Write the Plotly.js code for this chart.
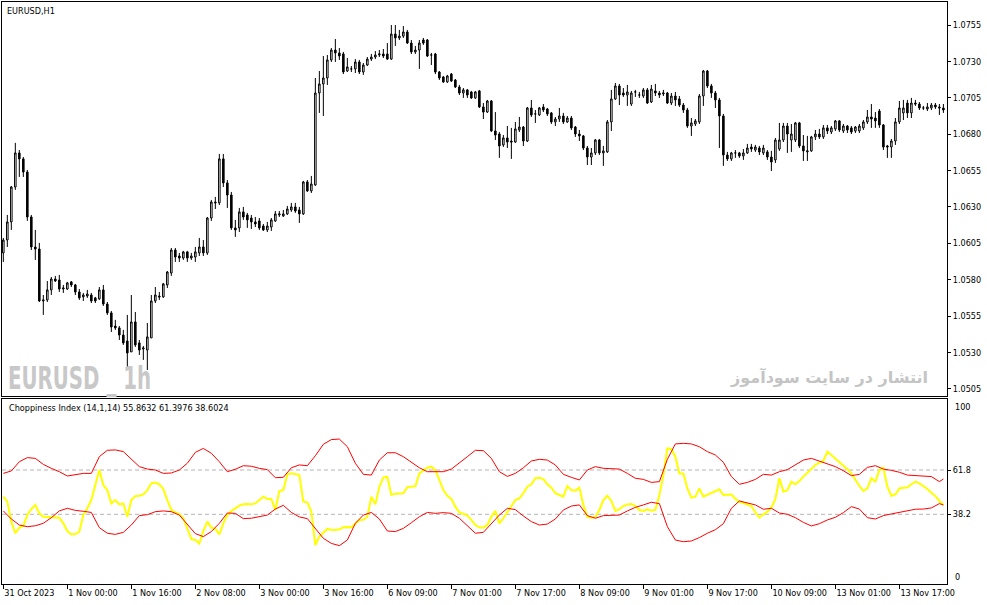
<!DOCTYPE html>
<html>
<head>
<meta charset="utf-8">
<script src="https://cdn.plot.ly/plotly-3.0.1.min.js"></script>
<style>
  html, body { margin: 0; padding: 0; background: #fff; }
  #chart { width: 987px; height: 605px; }
</style>
</head>
<body>
<div id="chart"></div>
<script>
// EURUSD H1, 236 bars
const open = [
  1.05984,1.06073,1.06197,1.06437,1.06671,1.06630,1.06540,1.06231,1.06025,1.06011,
  1.05654,1.05661,1.05730,1.05805,1.05798,1.05736,1.05736,1.05785,1.05764,1.05716,
  1.05682,1.05688,1.05695,1.05675,1.05668,1.05730,1.05633,1.05572,1.05482,1.05469,
  1.05420,1.05379,1.05304,1.05510,1.05366,1.05324,1.05317,1.05400,1.05654,1.05688,
  1.05682,1.05764,1.05846,1.06004,1.05963,1.05949,1.05991,1.05949,1.05956,1.05984,
  1.06025,1.05984,1.06224,1.06334,1.06328,1.06630,1.06465,1.06382,1.06156,1.06156,
  1.06266,1.06245,1.06224,1.06197,1.06204,1.06169,1.06142,1.06162,1.06204,1.06245,
  1.06238,1.06252,1.06279,1.06300,1.06279,1.06252,1.06472,1.06410,1.06451,1.07083,
  1.07145,1.07186,1.07310,1.07378,1.07358,1.07351,1.07234,1.07248,1.07248,1.07296,
  1.07227,1.07275,1.07316,1.07330,1.07344,1.07351,1.07351,1.07316,1.07488,1.07461,
  1.07474,1.07502,1.07426,1.07365,1.07378,1.07447,1.07447,1.07344,1.07351,1.07227,
  1.07193,1.07159,1.07213,1.07172,1.07124,1.07083,1.07104,1.07090,1.07049,1.07097,
  1.06987,1.06952,1.07028,1.06822,1.06801,1.06726,1.06774,1.06753,1.06746,1.06829,
  1.06849,1.06753,1.06980,1.06939,1.06932,1.06987,1.06973,1.06946,1.06884,1.06904,
  1.06925,1.06884,1.06911,1.06849,1.06801,1.06788,1.06705,1.06643,1.06671,1.06760,
  1.06671,1.06678,1.06884,1.07042,1.07131,1.07083,1.07069,1.07007,1.07090,1.07069,
  1.07062,1.07104,1.07021,1.07097,1.07083,1.07076,1.07083,1.07014,1.07062,1.07042,
  1.07000,1.06966,1.06856,1.06870,1.06884,1.07062,1.07234,1.07131,1.07083,1.07035,
  1.06925,1.06657,1.06630,1.06671,1.06671,1.06650,1.06671,1.06712,1.06691,1.06705,
  1.06671,1.06678,1.06643,1.06623,1.06698,1.06760,1.06856,1.06760,1.06760,1.06877,
  1.06719,1.06678,1.06685,1.06781,1.06801,1.06781,1.06843,1.06815,1.06836,1.06891,
  1.06822,1.06856,1.06843,1.06822,1.06822,1.06843,1.06884,1.06918,1.06911,1.06959,
  1.06863,1.06719,1.06712,1.06753,1.06884,1.06946,1.07014,1.06946,1.07014,1.07007,
  1.06980,1.06973,1.06980,1.07000,1.06987,1.06980
];
const high = [
  1.06087,1.06245,1.06444,1.06740,1.06691,1.06643,1.06554,1.06245,1.06142,1.06053,
  1.05695,1.05791,1.05819,1.05826,1.05833,1.05764,1.05785,1.05791,1.05771,1.05736,
  1.05709,1.05730,1.05709,1.05682,1.05750,1.05764,1.05647,1.05585,1.05524,1.05482,
  1.05455,1.05558,1.05695,1.05578,1.05386,1.05345,1.05503,1.05695,1.05750,1.05716,
  1.05778,1.05860,1.06018,1.06018,1.05984,1.05998,1.05998,1.05984,1.06025,1.06087,
  1.06073,1.06231,1.06348,1.06369,1.06664,1.06664,1.06485,1.06403,1.06211,1.06293,
  1.06300,1.06259,1.06245,1.06231,1.06224,1.06183,1.06197,1.06224,1.06272,1.06272,
  1.06279,1.06307,1.06328,1.06328,1.06300,1.06479,1.06485,1.06513,1.07186,1.07234,
  1.07337,1.07344,1.07392,1.07454,1.07392,1.07365,1.07323,1.07268,1.07316,1.07310,
  1.07289,1.07330,1.07351,1.07371,1.07378,1.07385,1.07426,1.07550,1.07550,1.07516,
  1.07543,1.07516,1.07447,1.07406,1.07447,1.07461,1.07454,1.07358,1.07358,1.07234,
  1.07200,1.07207,1.07220,1.07179,1.07138,1.07117,1.07110,1.07097,1.07097,1.07104,
  1.07014,1.07035,1.07035,1.06952,1.06815,1.06794,1.06856,1.06843,1.06884,1.06918,
  1.06856,1.06987,1.07035,1.06966,1.06987,1.07007,1.06980,1.06952,1.06918,1.06980,
  1.06946,1.06925,1.06925,1.06856,1.06829,1.06794,1.06719,1.06705,1.06767,1.06767,
  1.06719,1.06897,1.07104,1.07152,1.07145,1.07117,1.07138,1.07097,1.07104,1.07090,
  1.07117,1.07117,1.07138,1.07145,1.07097,1.07104,1.07090,1.07083,1.07090,1.07062,
  1.07014,1.06980,1.06911,1.06904,1.07076,1.07241,1.07241,1.07145,1.07097,1.07049,
  1.06939,1.06678,1.06678,1.06691,1.06678,1.06698,1.06733,1.06733,1.06726,1.06719,
  1.06726,1.06691,1.06685,1.06774,1.06877,1.06877,1.06877,1.06870,1.06884,1.06884,
  1.06794,1.06788,1.06788,1.06829,1.06836,1.06863,1.06863,1.06856,1.06897,1.06897,
  1.06870,1.06863,1.06856,1.06856,1.06870,1.06897,1.06966,1.07007,1.06952,1.06973,
  1.06870,1.06726,1.06767,1.06911,1.07028,1.07035,1.07035,1.07049,1.07035,1.07021,
  1.06994,1.07014,1.07014,1.07014,1.07007,1.07007
];
const low = [
  1.05922,1.06025,1.06142,1.06417,1.06506,1.06506,1.06204,1.06004,1.05936,1.05647,
  1.05558,1.05647,1.05695,1.05785,1.05716,1.05709,1.05730,1.05750,1.05695,1.05661,
  1.05654,1.05675,1.05640,1.05640,1.05661,1.05620,1.05558,1.05441,1.05455,1.05386,
  1.05352,1.05201,1.05304,1.05338,1.05283,1.05249,1.05180,1.05400,1.05640,1.05661,
  1.05675,1.05743,1.05826,1.05922,1.05922,1.05936,1.05922,1.05936,1.05922,1.05963,
  1.05963,1.05970,1.06204,1.06286,1.06313,1.06437,1.06293,1.06142,1.06094,1.06128,
  1.06211,1.06156,1.06149,1.06162,1.06142,1.06135,1.06128,1.06135,1.06197,1.06231,
  1.06231,1.06245,1.06266,1.06259,1.06190,1.06245,1.06403,1.06396,1.06444,1.06946,
  1.06925,1.07138,1.07296,1.07296,1.07310,1.07213,1.07227,1.07227,1.07220,1.07213,
  1.07207,1.07268,1.07303,1.07316,1.07330,1.07323,1.07310,1.07310,1.07406,1.07447,
  1.07461,1.07420,1.07351,1.07351,1.07248,1.07413,1.07330,1.07275,1.07213,1.07172,
  1.07152,1.07152,1.07159,1.07117,1.07069,1.07049,1.07049,1.07042,1.07042,1.06980,
  1.06904,1.06946,1.06815,1.06760,1.06637,1.06712,1.06705,1.06630,1.06740,1.06815,
  1.06719,1.06746,1.06918,1.06877,1.06925,1.06952,1.06925,1.06870,1.06856,1.06884,
  1.06870,1.06877,1.06829,1.06781,1.06753,1.06691,1.06588,1.06588,1.06657,1.06657,
  1.06582,1.06671,1.06822,1.07035,1.07000,1.07056,1.06994,1.06994,1.07056,1.07049,
  1.07049,1.07007,1.07014,1.07062,1.07049,1.07062,1.07007,1.07000,1.06994,1.06987,
  1.06946,1.06843,1.06788,1.06856,1.06870,1.06994,1.07117,1.07049,1.06980,1.06705,
  1.06582,1.06616,1.06616,1.06637,1.06637,1.06623,1.06664,1.06678,1.06678,1.06657,
  1.06657,1.06623,1.06547,1.06602,1.06685,1.06746,1.06671,1.06678,1.06746,1.06705,
  1.06616,1.06616,1.06678,1.06760,1.06767,1.06767,1.06801,1.06801,1.06822,1.06815,
  1.06808,1.06808,1.06801,1.06808,1.06808,1.06829,1.06870,1.06843,1.06843,1.06843,
  1.06691,1.06637,1.06637,1.06726,1.06870,1.06897,1.06911,1.06911,1.06994,1.06966,
  1.06966,1.06959,1.06966,1.06973,1.06932,1.06946
];
const close = [
  1.06073,1.06197,1.06437,1.06671,1.06630,1.06540,1.06231,1.06025,1.06011,1.05654,
  1.05661,1.05730,1.05805,1.05791,1.05736,1.05743,1.05778,1.05764,1.05716,1.05675,
  1.05695,1.05702,1.05654,1.05654,1.05730,1.05633,1.05572,1.05475,1.05469,1.05420,
  1.05366,1.05297,1.05510,1.05352,1.05317,1.05331,1.05407,1.05654,1.05695,1.05682,
  1.05771,1.05853,1.06004,1.05956,1.05949,1.05991,1.05949,1.05963,1.05991,1.06025,
  1.05984,1.06224,1.06334,1.06328,1.06630,1.06465,1.06382,1.06156,1.06142,1.06266,
  1.06231,1.06211,1.06197,1.06183,1.06156,1.06142,1.06169,1.06211,1.06252,1.06252,
  1.06252,1.06286,1.06300,1.06272,1.06252,1.06472,1.06410,1.06458,1.07083,1.07145,
  1.07186,1.07310,1.07378,1.07358,1.07337,1.07227,1.07262,1.07248,1.07296,1.07227,
  1.07275,1.07316,1.07330,1.07344,1.07351,1.07337,1.07316,1.07488,1.07461,1.07474,
  1.07502,1.07426,1.07365,1.07378,1.07426,1.07426,1.07337,1.07344,1.07227,1.07186,
  1.07159,1.07200,1.07165,1.07124,1.07083,1.07104,1.07069,1.07049,1.07090,1.06987,
  1.06952,1.07028,1.06822,1.06794,1.06719,1.06774,1.06746,1.06746,1.06836,1.06849,
  1.06753,1.06980,1.06932,1.06939,1.06980,1.06966,1.06939,1.06884,1.06904,1.06925,
  1.06884,1.06911,1.06843,1.06801,1.06788,1.06705,1.06643,1.06671,1.06760,1.06671,
  1.06685,1.06884,1.07042,1.07131,1.07069,1.07069,1.07090,1.07083,1.07090,1.07069,
  1.07104,1.07014,1.07110,1.07083,1.07069,1.07083,1.07014,1.07062,1.07035,1.07000,
  1.06966,1.06856,1.06877,1.06891,1.07062,1.07234,1.07131,1.07083,1.07035,1.06925,
  1.06657,1.06630,1.06671,1.06671,1.06650,1.06671,1.06705,1.06698,1.06712,1.06678,
  1.06705,1.06643,1.06609,1.06760,1.06760,1.06856,1.06801,1.06801,1.06877,1.06719,
  1.06685,1.06685,1.06781,1.06801,1.06781,1.06843,1.06822,1.06843,1.06891,1.06829,
  1.06856,1.06829,1.06815,1.06849,1.06856,1.06884,1.06918,1.06904,1.06891,1.06863,
  1.06712,1.06712,1.06753,1.06884,1.06980,1.06980,1.06946,1.07014,1.07007,1.06980,
  1.06980,1.06987,1.07000,1.06987,1.06980,1.06966
];

// Choppiness Index (14,1,14), one value per bar
const chop = [
  47.6,44.9,34.3,28.1,31.1,32.0,37.8,41.0,43.2,38.7,
  36.9,36.8,36.9,36.9,36.4,33.4,29.3,27.5,27.7,29.0,
  37.8,41.4,45.8,53.8,61.8,53.8,51.1,44.0,45.8,43.5,
  44.0,36.9,45.8,47.9,48.1,48.8,51.1,54.7,55.1,54.2,
  51.7,45.8,40.5,39.2,38.2,36.1,30.7,25.0,24.5,22.7,
  29.3,34.3,31.1,30.4,27.5,33.4,37.8,40.0,41.4,42.8,
  43.5,43.7,43.5,44.0,45.8,47.6,46.4,46.4,40.5,50.6,
  51.1,59.5,60.0,59.5,59.1,44.9,44.6,39.6,21.8,26.3,
  28.6,30.4,30.0,29.8,30.2,31.3,31.4,31.3,33.2,35.2,
  35.3,36.9,47.6,43.5,52.9,57.9,58.1,48.5,49.2,49.4,
  49.4,52.7,52.9,53.1,60.0,61.3,63.0,63.6,61.8,56.5,
  51.1,48.1,46.4,42.3,39.2,38.5,37.5,35.2,32.5,31.3,
  31.1,32.5,36.9,40.0,33.4,36.1,39.2,42.8,45.8,46.7,
  49.4,52.9,54.2,57.4,57.7,57.0,54.2,52.4,49.4,48.5,
  47.6,53.3,51.1,50.8,52.4,43.2,36.8,36.4,36.8,40.5,
  45.8,48.1,45.3,40.0,40.9,42.6,43.5,43.7,42.6,40.5,
  40.0,40.9,40.1,40.5,48.5,59.1,73.3,73.0,68.9,60.0,
  60.0,52.0,47.1,47.6,52.0,47.6,48.5,49.4,50.6,51.5,
  48.5,48.5,48.8,46.4,44.9,44.2,43.5,42.6,39.2,36.4,
  38.2,39.6,41.7,46.4,57.4,50.3,51.1,55.6,54.2,55.9,
  58.3,60.4,62.7,64.5,65.7,66.6,71.6,69.8,67.7,65.9,
  64.1,62.2,60.0,56.5,53.3,50.6,52.0,57.4,55.6,61.8,
  63.0,52.9,48.1,48.8,52.0,52.4,52.6,54.2,55.6,54.7,
  53.3,51.7,49.7,47.9,45.3,43.2
];

// band lines, read every second bar
const bandBars = [];
for (let i = 0; i <= 234; i += 2) bandBars.push(i);
bandBars.push(235);
const bandUpper = [
  60.0,61.3,66.2,68.4,68.0,64.8,62.7,60.9,58.6,59.5,60.0,60.0,68.9,72.3,72.5,
  71.6,67.5,63.6,62.3,61.8,60.0,60.2,61.8,65.4,71.2,73.3,70.7,66.2,60.9,62.2,
  64.1,63.8,62.7,62.0,57.7,57.9,63.0,64.5,64.1,69.4,75.5,78.0,78.3,74.2,65.4,
  59.5,59.1,67.1,71.0,71.0,68.9,65.9,63.0,60.9,60.9,60.9,62.3,65.4,68.9,72.3,
  72.1,68.0,60.9,58.4,60.0,63.0,66.6,67.5,67.1,64.5,59.5,57.9,56.5,61.8,63.6,
  62.7,62.3,62.3,60.0,57.4,56.8,55.2,55.6,67.5,75.7,76.0,75.7,74.2,71.6,
  69.8,65.9,58.3,54.2,55.2,56.8,59.5,59.1,60.9,62.0,64.5,67.1,68.0,66.6,64.8,
  63.6,61.4,58.8,59.5,63.2,64.1,62.3,61.6,60.6,59.1,58.8,58.6,58.3,55.6,57.0
];
const bandLower = [
  40.0,35.7,32.5,31.6,32.1,33.4,36.4,40.0,41.4,40.3,39.8,39.2,31.1,28.1,27.5,
  28.6,32.5,37.5,38.0,39.6,40.0,39.6,37.8,32.9,27.9,26.3,29.0,33.4,38.9,38.7,
  35.9,36.1,36.9,37.8,41.0,43.0,39.2,36.8,35.9,30.7,25.4,22.7,21.5,24.5,33.4,
  37.8,39.2,35.7,29.3,29.0,30.7,33.7,36.9,39.2,38.7,39.1,38.7,36.1,32.1,28.1,
  28.6,33.0,37.8,41.4,40.7,37.3,34.3,32.5,33.0,35.7,40.5,42.6,43.2,37.5,36.1,
  37.5,37.6,37.8,40.0,41.9,43.2,44.6,43.9,31.6,24.5,23.6,24.0,25.8,28.1,
  30.0,33.2,41.4,45.3,44.4,43.2,40.9,41.4,38.9,38.2,36.4,33.9,32.0,33.2,35.2,
  36.6,39.1,42.3,41.0,36.4,35.7,37.5,38.4,39.2,40.3,40.9,41.0,41.6,43.9,43.2
];
const levels = [61.8, 38.2];

const timeTickBars = [0,16,32,48,64,80,96,112,128,144,160,176,192,208,224];
const timeTickLabels = ['31 Oct 2023','1 Nov 00:00','1 Nov 16:00','2 Nov 08:00','3 Nov 00:00',
  '3 Nov 16:00','6 Nov 09:00','7 Nov 01:00','7 Nov 17:00','8 Nov 09:00','9 Nov 01:00',
  '9 Nov 17:00','10 Nov 09:00','13 Nov 01:00','13 Nov 17:00'];

const bars = open.map((_, i) => i);
const uiFont = {family: 'DejaVu Sans Condensed, Liberation Sans, sans-serif', size: 9, color: '#000'};
const WATERMARK = 'EURUSD _ 1h';

const candles = {
  type: 'candlestick',
  x: bars, open: open, high: high, low: low, close: close,
  xaxis: 'x', yaxis: 'y',
  whiskerwidth: 0,
  increasing: {line: {color: '#000', width: 1}, fillcolor: '#fff'},
  decreasing: {line: {color: '#000', width: 1}, fillcolor: '#000'},
  hoverinfo: 'skip'
};

const chopLine = {
  type: 'scatter', mode: 'lines',
  x: bars, y: chop, xaxis: 'x2', yaxis: 'y2',
  line: {color: '#ffff00', width: 2},
  hoverinfo: 'skip'
};
const upperLine = {
  type: 'scatter', mode: 'lines',
  x: bandBars, y: bandUpper, xaxis: 'x2', yaxis: 'y2',
  line: {color: '#ff0000', width: 1},
  hoverinfo: 'skip'
};
const lowerLine = {
  type: 'scatter', mode: 'lines',
  x: bandBars, y: bandLower, xaxis: 'x2', yaxis: 'y2',
  line: {color: '#ff0000', width: 1},
  hoverinfo: 'skip'
};

const xRange = [-0.33, 235.9];
const frame = {showline: true, mirror: true, linecolor: '#000', linewidth: 1,
  showgrid: false, zeroline: false};

const layout = {
  width: 987, height: 605,
  margin: {l: 2, r: 40, t: 2, b: 21},
  paper_bgcolor: '#fff', plot_bgcolor: '#fff',
  showlegend: false,
  boxgap: 0.45,
  font: uiFont,
  xaxis: Object.assign({}, frame, {
    domain: [0, 1], anchor: 'y', range: xRange,
    showticklabels: false, ticks: '', rangeslider: {visible: false}
  }),
  yaxis: Object.assign({}, frame, {
    domain: [0.32302, 1], anchor: 'x', side: 'right',
    range: [1.05001, 1.07708], tick0: 1.0505, dtick: 0.0025, tickformat: '.4f',
    ticks: 'outside', ticklen: 3, tickcolor: '#000', tickfont: uiFont
  }),
  xaxis2: Object.assign({}, frame, {
    domain: [0, 1], anchor: 'y2', range: xRange,
    tickmode: 'array', tickvals: timeTickBars, ticktext: timeTickLabels,
    ticks: 'outside', ticklen: 4, tickcolor: '#000',
    ticklabelposition: 'outside right', tickfont: uiFont
  }),
  yaxis2: Object.assign({}, frame, {
    domain: [0, 0.31787], anchor: 'x2', side: 'right',
    range: [1.07, 99.63], tickmode: 'array', tickvals: levels,
    ticktext: levels.map(v => v.toFixed(1)),
    ticks: 'outside', ticklen: 3, tickcolor: '#000', tickfont: uiFont
  }),
  shapes: levels.map(v => ({
    type: 'line', xref: 'x2 domain', yref: 'y2', x0: 0, x1: 1, y0: v, y1: v,
    line: {color: '#b4b4b4', width: 1, dash: '4px,3px'}, layer: 'below'
  })),
  annotations: [
    {text: 'EURUSD,H1', xref: 'x domain', yref: 'y domain', x: 0.0032, y: 0.977,
     xanchor: 'left', yanchor: 'middle', showarrow: false, font: uiFont},
    {text: WATERMARK, xref: 'x domain', yref: 'y domain', x: 0.004, y: 0.046,
     xanchor: 'left', yanchor: 'middle', showarrow: false,
     font: {family: 'DejaVu Sans, sans-serif', size: 32, weight: 'bold', color: '#c8c8c8'}},
    {text: 'انتشار در سایت سودآموز', xref: 'x domain', yref: 'y domain', x: 0.982, y: 0.048,
     xanchor: 'right', yanchor: 'middle', showarrow: false,
     font: {family: 'DejaVu Sans, sans-serif', size: 16, weight: 'bold', color: '#c4c4c4'}},
    {text: 'Choppiness Index (14,1,14) 55.8632 61.3976 38.6024', xref: 'x2 domain', yref: 'y2 domain',
     x: 0.0053, y: 0.951, xanchor: 'left', yanchor: 'middle', showarrow: false, font: uiFont},
    {text: '100', xref: 'paper', yref: 'y2 domain', x: 1.0063, y: 0.957,
     xanchor: 'left', yanchor: 'middle', showarrow: false, font: uiFont},
    {text: '0', xref: 'paper', yref: 'y2 domain', x: 1.0063, y: 0.038,
     xanchor: 'left', yanchor: 'middle', showarrow: false, font: uiFont}
  ]
};

Plotly.newPlot('chart', [candles, chopLine, upperLine, lowerLine], layout,
  {staticPlot: true, displayModeBar: false}).then(() => {
  // MT4 draws the watermark in a narrow bold face; squeeze it to the same width
  const el = Array.from(document.querySelectorAll('.annotation-text'))
    .find(t => t.textContent === WATERMARK);
  if (el) {
    const bb = el.getBBox();
    el.setAttribute('text-anchor', 'start');
    el.setAttribute('x', bb.x);
    el.setAttribute('textLength', 143);
    el.setAttribute('lengthAdjust', 'spacingAndGlyphs');
  }
});
</script>
</body>
</html>
